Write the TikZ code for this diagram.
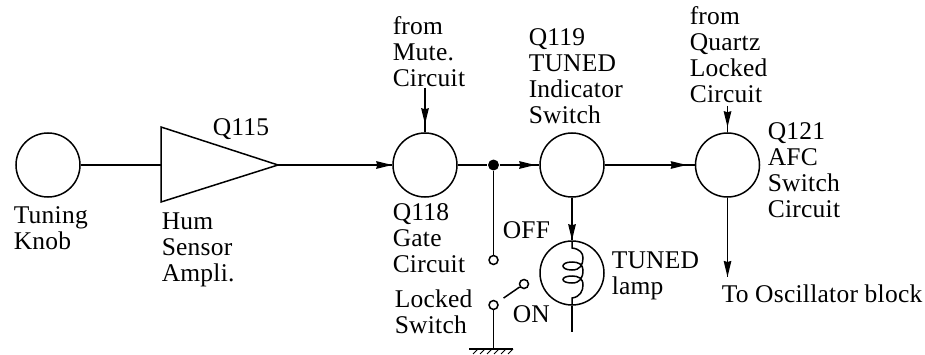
\documentclass[tikz,border=0pt]{standalone}
\usepackage{fontspec}
\setmainfont[LetterSpace=1]{Liberation Serif}
\usetikzlibrary{arrows.meta}
\tikzstyle{stage} = [circle, draw, minimum size=64pt, inner sep=0pt]
\tikzstyle{contact} = [circle, draw, minimum size=9pt, inner sep=0pt]
\tikzstyle{junction} = [circle, fill, minimum size=11pt, inner sep=0pt]
\tikzstyle{lbl} = [anchor=north west, align=left, inner sep=0pt, font=\fontsize{25.5}{26}\selectfont]
\tikzset{sig/.style={-{Stealth[length=16pt,width=7.5pt,inset=1pt]}, shorten >=#1, postaction={draw,-,shorten >=0pt}}, sig/.default=0pt}
\begin{document}
\begin{tikzpicture}[x=1pt,y=1pt,line width=1.5pt,node distance=147pt]
  \useasboundingbox (0,0) rectangle (925,354);
  \node[stage] (knob) at (48,189) {};
  \node[stage] (gate) at (425,189) {};
  \node[stage] (tuned) [right of=gate] {};
  \node[stage] (afc) at (727.5,189) {};
  \node[stage] (lamp) at (572,81) {};
  \node[junction] (tap) at (493.5,189) {};
  \node[contact] (off) at (493.5,94) {};
  \node[contact] (swpole) at (493.5,49) {};
  \node[contact] (swon) at (524,70) {};

  \coordinate (ampin) at (161,189);
  \coordinate (amptop) at (161,227);
  \coordinate (ampbot) at (161,152);
  \coordinate (amptip) at (278,189);
  \coordinate (muteend) at (425,266);
  \coordinate (quartzend) at (727.5,248);
  \coordinate (oscend) at (727.5,77);
  \coordinate (lampend) at (572,22);
  \coordinate (earth) at (493.5,5);

  \draw (amptop) -- (amptip) -- (ampbot) -- cycle;
  \draw (knob) -- (ampin);
  \draw[sig] (amptip) -- (gate);
  \draw[sig=8pt] (muteend) -- (gate);
  \draw (gate) -- (tap);
  \draw[sig=4pt] (tap) -- (tuned);
  \draw[sig=8pt] (tuned) -- (afc);
  \draw[sig=5pt] (quartzend) -- (afc);
  \draw[sig] (afc) -- (oscend);
  \draw[sig] (tuned) -- (lamp);
  \draw (lamp) -- (lampend);
  \draw (tap) -- (off);
  \draw (swpole) -- (earth);
  \draw[shorten <=7pt] (swpole) -- (swon);

  % earth bar
  \draw (469,5) -- (513,5);
  \foreach \x in {478,485,492,499,506,513}
    \draw[line width=1pt] (\x,5) -- (\x-5,0);

  % lamp filament
  \begin{scope}[shift={(lamp.center)}]
    \draw (0,32) -- (0,25) .. controls (8,24) and (11,20) .. (11,15)
      .. controls (11,8) and (8,3) .. (0,3)
      .. controls (-12,3) and (-12,11) .. (0,11)
      .. controls (6,11) and (11,9) .. (11,3)
      .. controls (11,-5) and (8,-10) .. (0,-10)
      .. controls (-12,-10) and (-12,-3) .. (0,-3)
      .. controls (6,-3) and (11,-5) .. (11,-12)
      .. controls (11,-18) and (8,-24) .. (0,-25) -- (0,-32);
  \end{scope}

  \node[lbl] (knoblbl) at (13,148) {Tuning\\Knob};
  \node[lbl] (q115) at (212,236) {Q115};
  \node[lbl] (amplbl) at (161,142) {Hum\\Sensor\\Ampli.};
  \node[lbl] (mutelbl) at (392,338) {from\\Mute.\\Circuit};
  \node[lbl] (gatelbl) at (392,151) {Q118\\Gate\\Circuit};
  \node[lbl] (tunedlbl) at (528,326) {Q119\\TUNED\\Indicator\\Switch};
  \node[lbl] (quartzlbl) at (689,348) {from\\Quartz\\Locked\\Circuit};
  \node[lbl] (afclbl) at (767,232) {Q121\\AFC\\Switch\\Circuit};
  \node[lbl] (offlbl) at (502,133) {OFF};
  \node[lbl] (onlbl) at (512,49) {ON};
  \node[lbl] (lamplbl) at (611,102.5) {TUNED\\lamp};
  \node[lbl] (swlbl) at (394,64.5) {Locked\\Switch};
  \node[lbl] (osclbl) at (721,69.5) {To Oscillator block};
\end{tikzpicture}
\end{document}
